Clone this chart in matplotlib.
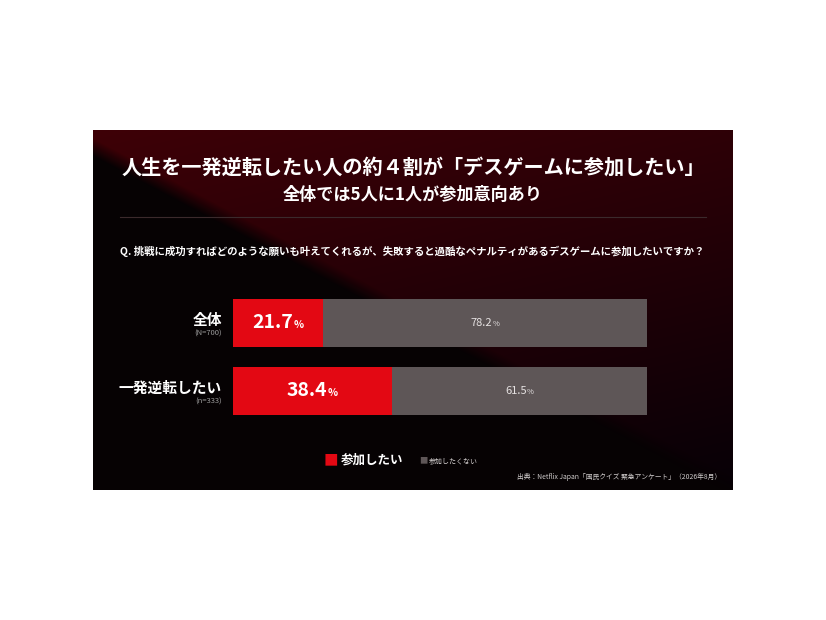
import numpy as np
import matplotlib
matplotlib.use("Agg")
import matplotlib.pyplot as plt
from matplotlib.lines import Line2D
from matplotlib.offsetbox import TextArea, HPacker, AnnotationBbox

plt.rcParams['font.family'] = ['Noto Sans CJK JP', 'DejaVu Sans']

# data
categories = ['全体', '一発逆転したい']
sample_sizes = ['(N=700)', '(n=333)']
yes_values = [21.7, 38.4]
no_values = [78.2, 61.5]
legend_labels = ['参加したい', '参加したくない']

title = '人生を一発逆転したい人の約４割が「デスゲームに参加したい」'
subtitle = '全体では5人に1人が参加意向あり'
question = 'Q. 挑戦に成功すればどのような願いも叶えてくれるが、失敗すると過酷なペナルティがあるデスゲームに参加したいですか？'
source = '出典：Netflix Japan「国民クイズ 緊急アンケート」（2026年8月）'

RED = '#e30813'
GRAY = '#5e5657'

W, H = 826, 620


def fx(x):
    return x / W


def fy(y):
    return 1 - y / H


fig = plt.figure(figsize=(8.26, 6.2), dpi=100, facecolor='white')

# dark panel with diagonal split background
bg = fig.add_axes([fx(93), fy(490), 640 / W, 360 / H])
px, py = np.meshgrid(np.arange(640), np.arange(360))
line_y = 20 + 0.53 * px
dist = line_y - py  # positive above the line
blend = np.clip((dist + 6) / 18, 0, 1)
red_r = 62 - 0.11 * py - 0.025 * px
img = np.zeros((360, 640, 3))
img[..., 0] = (6 + blend * (red_r - 6)) / 255
img[..., 1] = (2 + blend * (0 - 2)) / 255
img[..., 2] = (3 + blend * (6 - 3)) / 255
bg.imshow(np.clip(img, 0, 1), aspect='auto', interpolation='bilinear')
bg.axis('off')

# titles
fig.text(fx(413), fy(167), title, color='white', fontsize=14.5, fontweight='bold',
         ha='center', va='center')
fig.text(fx(413), fy(195), subtitle, color='white', fontsize=12.3, fontweight='bold',
         ha='center', va='center')
fig.add_artist(Line2D([fx(120), fx(706)], [fy(217), fy(217)], color='#3b2a2c',
                      linewidth=0.8, transform=fig.transFigure))
fig.text(fx(120), fy(251), question, color='white', fontsize=7.5, fontweight='bold',
         ha='left', va='center')

# bars
ax = fig.add_axes([fx(233), fy(425), 414 / W, 135 / H])
ax.patch.set_alpha(0)
y = np.arange(len(categories))
ax.barh(y, yes_values, height=0.706, color=RED)
ax.barh(y, no_values, left=yes_values, height=0.706, color=GRAY)
ax.set_xlim(0, 99.9)
ax.set_ylim(1.5, -0.485)
ax.axis('off')

for i in range(len(categories)):
    ax.text(-0.027, y[i] - 0.04, categories[i], transform=ax.get_yaxis_transform(),
            color='white', fontsize=10.6, fontweight='bold', ha='right', va='center')
    ax.text(-0.027, y[i] + 0.15, sample_sizes[i], transform=ax.get_yaxis_transform(),
            color='#9a9a9a', fontsize=5.5, ha='right', va='center')

    big = HPacker(children=[
        TextArea(f'{yes_values[i]:.1f}', textprops=dict(color='white', fontsize=14,
                                                         fontweight='bold')),
        TextArea('%', textprops=dict(color='white', fontsize=7.5, fontweight='bold'))],
        align='baseline', pad=0, sep=0.5)
    ax.add_artist(AnnotationBbox(big, (yes_values[i] / 2, y[i]), frameon=False,
                                 box_alignment=(0.5, 0.45), pad=0))

    small = HPacker(children=[
        TextArea(f'{no_values[i]:.1f}', textprops=dict(color='#e6e2e2', fontsize=8)),
        TextArea('%', textprops=dict(color='#e6e2e2', fontsize=5.5))],
        align='baseline', pad=0, sep=0.3)
    ax.add_artist(AnnotationBbox(small, (yes_values[i] + no_values[i] / 2, y[i]),
                                 frameon=False, box_alignment=(0.5, 0.5), pad=0))

# legend
fig.text(fx(324), fy(461), '■', color=RED, fontsize=10.5, ha='left', va='center')
fig.text(fx(341), fy(460), legend_labels[0], color='white', fontsize=9, fontweight='bold',
         ha='left', va='center')
fig.text(fx(419), fy(461), '■', color=GRAY, fontsize=6, ha='left', va='center')
fig.text(fx(429), fy(461), legend_labels[1], color='#d8d4d4', fontsize=5,
         ha='left', va='center')

fig.text(fx(721), fy(477), source, color='#d0cccc', fontsize=4.9, ha='right', va='center')

fig.savefig('out.png', dpi=100, facecolor='white')
